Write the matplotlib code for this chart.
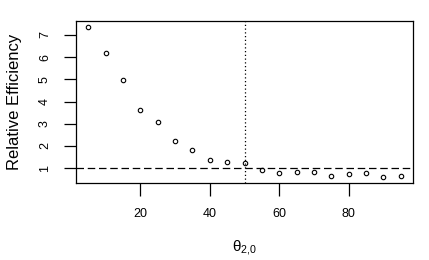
import matplotlib
matplotlib.use("Agg")
import matplotlib.pyplot as plt

theta = [5, 10, 15, 20, 25, 30, 35, 40, 45, 50, 55, 60, 65, 70, 75, 80, 85, 90, 95]
rel_eff = [7.36, 6.19, 4.96, 3.64, 3.07, 2.21, 1.81, 1.37, 1.28, 1.23,
           0.91, 0.79, 0.82, 0.83, 0.65, 0.74, 0.77, 0.60, 0.65]
xticks = [20, 40, 60, 80]
yticks = [1, 2, 3, 4, 5, 6, 7]

plt.rcParams['font.family'] = ['Liberation Sans', 'DejaVu Sans']

fig = plt.figure(figsize=(4.29, 2.6), dpi=100)
ax = fig.add_axes([76/429, 1 - 183/260, (413-76)/429, (183-21)/260])

ax.plot(theta, rel_eff, linestyle='none', marker='o', markersize=3.2,
        markerfacecolor='none', markeredgecolor='black', markeredgewidth=0.8)
ax.axhline(1, color='black', linestyle=(0, (6, 3)), linewidth=0.9)
ax.axvline(50, color='black', linestyle=(0, (1, 2)), linewidth=0.9)

span_x = max(theta) - min(theta)
span_y = max(rel_eff) - min(rel_eff)
ax.set_xlim(min(theta) - 0.04*span_x, max(theta) + 0.04*span_x)
ax.set_ylim(min(rel_eff) - 0.04*span_y, max(rel_eff) + 0.04*span_y)

ax.set_xticks(xticks)
ax.set_yticks(yticks)
ax.set_yticklabels([str(v) for v in yticks], rotation=90, va='center')
ax.tick_params(direction='out', length=9, width=0.9, labelsize=9, pad=9)
for s in ax.spines.values():
    s.set_linewidth(0.9)

ax.set_ylabel('Relative Efficiency', fontsize=12, labelpad=12)
ax.set_xlabel(r'$\mathregular{\theta_{2{,}0}}$', fontsize=11, labelpad=13)

fig.savefig('out.png', dpi=100)
